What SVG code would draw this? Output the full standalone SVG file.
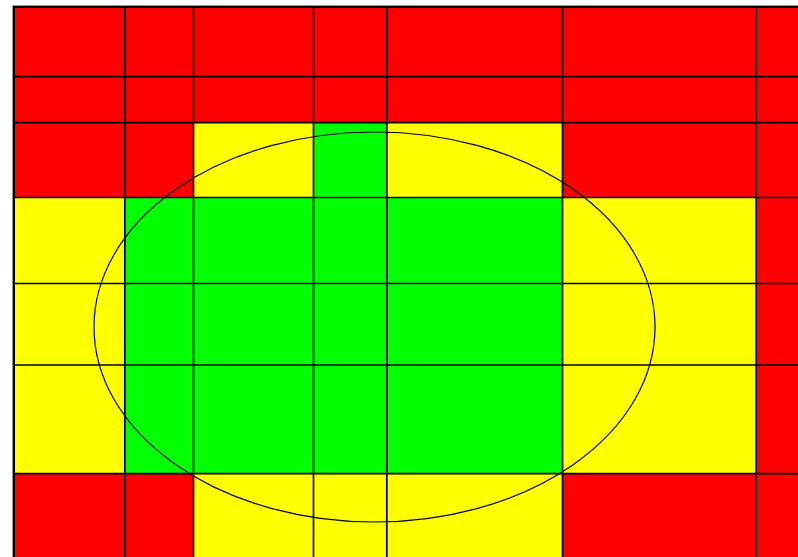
<svg xmlns="http://www.w3.org/2000/svg" width="798" height="557" viewBox="0 0 798 557">
<style>
.r{fill:#FF0000}.y{fill:#FFFF00}.g{fill:#00FF00}
.grid line{stroke:#000;stroke-width:1.7}
</style>
<rect x="0" y="0" width="798" height="557" fill="#fff"/>
<g id="cells">
<!-- row 0-1 -->
<rect class="r" x="14" y="7" width="784" height="116"/>
<!-- row 2 -->
<rect class="r" x="14" y="122.7" width="180" height="75"/>
<rect class="y" x="193.5" y="122.7" width="120" height="75"/>
<rect class="g" x="313.5" y="122.7" width="73.3" height="75"/>
<rect class="y" x="386.8" y="122.7" width="175.7" height="75"/>
<rect class="r" x="562.5" y="122.7" width="236" height="75"/>
<!-- rows 3-5 -->
<rect class="y" x="14" y="197.5" width="111" height="276.2"/>
<rect class="g" x="124.8" y="197.5" width="437.7" height="276.2"/>
<rect class="y" x="562.5" y="197.5" width="193.7" height="276.2"/>
<rect class="r" x="756.2" y="197.5" width="42" height="276.2"/>
<!-- row 6 -->
<rect class="r" x="14" y="473.7" width="179.5" height="84"/>
<rect class="y" x="193.5" y="473.7" width="369" height="84"/>
<rect class="r" x="562.5" y="473.7" width="236" height="84"/>
</g>
<g id="grid" class="grid">
<line x1="124.8" y1="7" x2="124.8" y2="557"/>
<line x1="193.5" y1="7" x2="193.5" y2="557"/>
<line x1="313.5" y1="7" x2="313.5" y2="557"/>
<line x1="386.8" y1="7" x2="386.8" y2="557"/>
<line x1="562.5" y1="7" x2="562.5" y2="557"/>
<line x1="756.2" y1="7" x2="756.2" y2="557"/>
<line x1="14" y1="76.7" x2="798" y2="76.7"/>
<line x1="14" y1="122.7" x2="798" y2="122.7"/>
<line x1="14" y1="197.5" x2="798" y2="197.5"/>
<line x1="14" y1="283.5" x2="798" y2="283.5"/>
<line x1="14" y1="365" x2="798" y2="365"/>
<line x1="14" y1="473.7" x2="798" y2="473.7"/>
</g>
<g id="border">
<line x1="12.5" y1="5.5" x2="798" y2="5.5" stroke="#999" stroke-width="1"/>
<line x1="12.5" y1="5.5" x2="12.5" y2="557" stroke="#999" stroke-width="1"/>
<line x1="13" y1="7" x2="798" y2="7" stroke="#000" stroke-width="2"/>
<line x1="14" y1="6" x2="14" y2="557" stroke="#000" stroke-width="2"/>
</g>
<ellipse id="ellipse" cx="374.5" cy="327" rx="280.5" ry="195" fill="none" stroke="#000" stroke-width="1.2"/>
</svg>
